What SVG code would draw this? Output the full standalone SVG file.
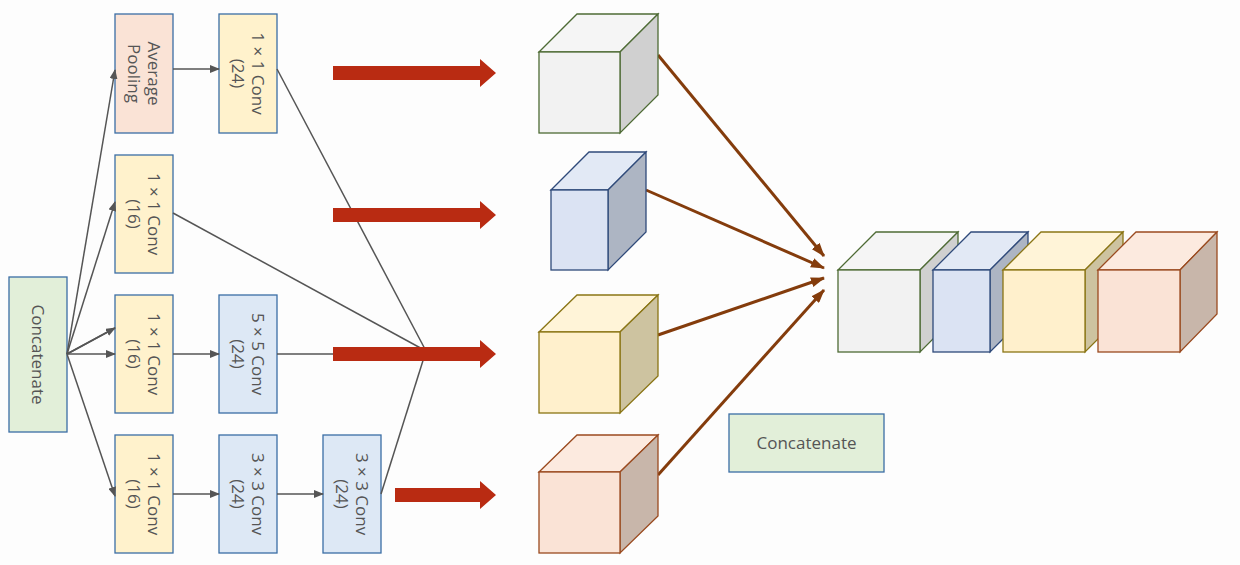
<svg xmlns="http://www.w3.org/2000/svg" width="1240" height="565" viewBox="0 0 1240 565">
<defs>
<style>
.t{font-family:"Open Sans","DejaVu Sans",sans-serif;font-size:17px;fill:#555;text-anchor:middle}
.y{fill:#fff2cc;stroke:#3b6ea5;stroke-width:1.3}
.b{fill:#dde8f5;stroke:#3b6ea5;stroke-width:1.3}
.p{fill:#fae3d6;stroke:#3b6ea5;stroke-width:1.3}
.g{fill:#e2efd9;stroke:#3b6ea5;stroke-width:1.3}
.c{stroke:#555;stroke-width:1.5;fill:none}
.br{stroke:#843c0c;stroke-width:3;fill:none}
</style>
<marker id="a" markerWidth="10" markerHeight="8" refX="9" refY="4" orient="auto" markerUnits="userSpaceOnUse"><path d="M0,0L10,4L0,8z" fill="#555"/></marker>
<marker id="ab" markerWidth="14" markerHeight="10" refX="13" refY="5" orient="auto" markerUnits="userSpaceOnUse"><path d="M0,0L14,5L0,10z" fill="#843c0c"/></marker>
</defs>
<rect width="1240" height="565" fill="#fdfdfd"/>
<g id="concat-left"><rect class="g" x="9" y="277" width="58" height="155"/><text class="t" transform="translate(38,354.5) rotate(90)" dy="6">Concatenate</text></g>
<g id="avgpool"><rect class="p" x="115" y="14" width="58" height="119"/><text class="t" transform="translate(144,73.5) rotate(90)"><tspan x="0" y="-4">Average</tspan><tspan x="0" y="16">Pooling</tspan></text></g>
<g id="conv1a"><rect class="y" x="219" y="14" width="58" height="119"/><text class="t" transform="translate(248,73.5) rotate(90)"><tspan x="0" y="-4">1 × 1 Conv</tspan><tspan x="0" y="16">(24)</tspan></text></g>
<g id="conv1b"><rect class="y" x="115" y="155" width="58" height="118"/><text class="t" transform="translate(144,214) rotate(90)"><tspan x="0" y="-4">1 × 1 Conv</tspan><tspan x="0" y="16">(16)</tspan></text></g>
<g id="conv1c"><rect class="y" x="115" y="295" width="58" height="118"/><text class="t" transform="translate(144,354) rotate(90)"><tspan x="0" y="-4">1 × 1 Conv</tspan><tspan x="0" y="16">(16)</tspan></text></g>
<g id="conv5"><rect class="b" x="219" y="295" width="58" height="118"/><text class="t" transform="translate(248,354) rotate(90)"><tspan x="0" y="-4">5 × 5 Conv</tspan><tspan x="0" y="16">(24)</tspan></text></g>
<g id="conv1d"><rect class="y" x="115" y="435" width="58" height="118"/><text class="t" transform="translate(144,494) rotate(90)"><tspan x="0" y="-4">1 × 1 Conv</tspan><tspan x="0" y="16">(16)</tspan></text></g>
<g id="conv3a"><rect class="b" x="219" y="435" width="58" height="118"/><text class="t" transform="translate(248,494) rotate(90)"><tspan x="0" y="-4">3 × 3 Conv</tspan><tspan x="0" y="16">(24)</tspan></text></g>
<g id="conv3b"><rect class="b" x="323" y="435" width="58" height="118"/><text class="t" transform="translate(352,494) rotate(90)"><tspan x="0" y="-4">3 × 3 Conv</tspan><tspan x="0" y="16">(24)</tspan></text></g>
<g id="connectors">
<path class="c" d="M67,354L115,70" marker-end="url(#a)"/>
<path class="c" d="M67,354L115,202" marker-end="url(#a)"/>
<path class="c" d="M67,354L115,328" marker-end="url(#a)"/>
<path class="c" d="M67,354L115,328" stroke="none"/>
<path class="c" d="M67,354L115,354" marker-end="url(#a)"/>
<path class="c" d="M67,354L115,496" marker-end="url(#a)"/>
<path class="c" d="M173,69L219,69" marker-end="url(#a)"/>
<path class="c" d="M173,354L219,354" marker-end="url(#a)"/>
<path class="c" d="M173,494L219,494" marker-end="url(#a)"/>
<path class="c" d="M277,494L323,494" marker-end="url(#a)"/>
<path class="c" d="M277,69L426,351"/>
<path class="c" d="M173,213L426,351"/>
<path class="c" d="M277,354L426,354"/>
<path class="c" d="M381,494L426,351"/>
<g fill="#b92b12">
<path d="M333,66H480V59L496,73L480,87V80H333z"/>
<path d="M333,208H480V201L496,215L480,229V222H333z"/>
<path d="M333,347H480V340L496,354L480,368V361H333z"/>
<path d="M395,488H480V481L496,495L480,509V502H395z"/>
</g>
<path class="br" d="M658,55L824,256" marker-end="url(#ab)"/>
<path class="br" d="M646,190L824,268" marker-end="url(#ab)"/>
<path class="br" d="M658,335L824,278" marker-end="url(#ab)"/>
<path class="br" d="M658,475L824,290" marker-end="url(#ab)"/>
</g>
<g id="cube1" stroke="#4e6b35" stroke-width="1.3"><path d="M539,52L577,14H658L620,52z" fill="#f5f5f5"/><path d="M620,52L658,14V95L620,133z" fill="#d0d0d0"/><rect x="539" y="52" width="81" height="81" fill="#f2f2f2"/></g>
<g id="cube2" stroke="#2f4a7a" stroke-width="1.3"><path d="M551,190L589,152H646L608,190z" fill="#e2e9f5"/><path d="M608,190L646,152V232L608,270z" fill="#adb5c3"/><rect x="551" y="190" width="57" height="80" fill="#dbe3f3"/></g>
<g id="cube3" stroke="#8a7515" stroke-width="1.3"><path d="M539,332L577,295H658L620,332z" fill="#fff4d8"/><path d="M620,332L658,295V376L620,413z" fill="#cdc3a0"/><rect x="539" y="332" width="81" height="81" fill="#fff0cc"/></g>
<g id="cube4" stroke="#9a4a1f" stroke-width="1.3"><path d="M539,472L577,435H658L620,472z" fill="#fceadf"/><path d="M620,472L658,435V516L620,553z" fill="#c8b6aa"/><rect x="539" y="472" width="81" height="81" fill="#fae3d6"/></g>
<g id="stack">
<g stroke="#4e6b35" stroke-width="1.3"><path d="M838,270L876,232H958L920,270z" fill="#f5f5f5"/><path d="M920,270L958,232V314L920,352z" fill="#d0d0d0"/><rect x="838" y="270" width="82" height="82" fill="#f2f2f2"/></g>
<g stroke="#2f4a7a" stroke-width="1.3"><path d="M933,270L971,232H1028L990,270z" fill="#e2e9f5"/><path d="M990,270L1028,232V314L990,352z" fill="#adb5c3"/><rect x="933" y="270" width="57" height="82" fill="#dbe3f3"/></g>
<g stroke="#8a7515" stroke-width="1.3"><path d="M1003,270L1041,232H1123L1085,270z" fill="#fff4d8"/><path d="M1085,270L1123,232V314L1085,352z" fill="#cdc3a0"/><rect x="1003" y="270" width="82" height="82" fill="#fff0cc"/></g>
<g stroke="#9a4a1f" stroke-width="1.3"><path d="M1098,270L1136,232H1217L1180,270z" fill="#fceadf"/><path d="M1180,270L1217,232V314L1180,352z" fill="#c8b6aa"/><rect x="1098" y="270" width="82" height="82" fill="#fae3d6"/></g>
</g>
<g id="concat-right"><rect class="g" x="729" y="414" width="155" height="58"/><text class="t" x="806.5" y="449">Concatenate</text></g>
</svg>
